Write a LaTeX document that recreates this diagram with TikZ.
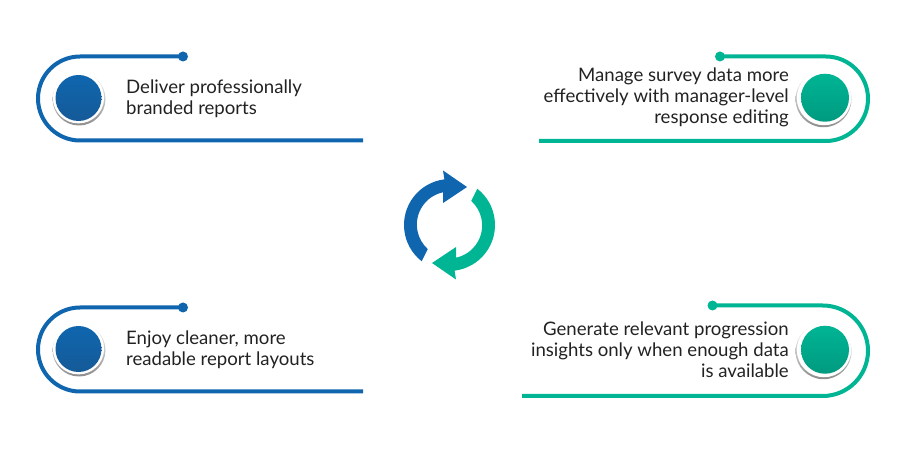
\documentclass[tikz,border=0pt]{standalone}
\usepackage{fontspec}
\setmainfont{Lato}
\definecolor{azul}{HTML}{0F66AE}
\definecolor{azulescuro}{HTML}{155A98}
\definecolor{verde}{HTML}{00B594}
\definecolor{verdeescuro}{HTML}{009A80}
\definecolor{tinta}{HTML}{222222}
\begin{document}
\begin{tikzpicture}[x=1pt,y=1pt]

\newcommand{\lr}{46}
\newcommand{\li}{33}
\newcommand{\lc}{450}
\newcommand{\lm}{225}

\tikzstyle{faixa}=[line width=4pt]
\tikzstyle{ponto}=[circle,fill,inner sep=0,minimum size=10pt]
\tikzstyle{borda}=[circle,inner sep=0,shade,top color=white,bottom color=black!45]
\tikzstyle{miolo}=[circle,inner sep=0]
\tikzstyle{texto}=[text=tinta,font=\fontsize{18.6}{21}\selectfont,inner sep=0]

\useasboundingbox (0,0) rectangle (900,450);

\newcommand{\esquerda}[7]{
    \draw[faixa,#6] ({#2},{#3}) -- ({38+(#3-#4)/2},{#3}) arc (90:270:{(#3-#4)/2}) -- ({#5},{#4});
    \node[ponto,fill=#6] (#1dot) at ({#2},{#3}) {};
    \node[borda,minimum size=53pt] (#1borda) at (79,{(#3+#4)/2-0.5}) {};
    \fill[white] (78.5,{(#3+#4)/2+0.7}) circle (25.6);
    \node[miolo,minimum size=46pt,top color=#6,bottom color=#6escuro] (#1miolo) at (78.5,{(#3+#4)/2+0.5}) {};
    \node[texto,anchor=west,align=left] (#1texto) at (126,{(#3+#4)/2}) {#7};
}

\newcommand{\direita}[7]{
    \draw[faixa,#6] ({#2},{#3}) -- ({868-(#3-#4)/2},{#3}) arc (90:-90:{(#3-#4)/2}) -- ({#5},{#4});
    \node[ponto,fill=#6] (#1dot) at ({#2},{#3}) {};
    \node[borda,minimum size=56pt] (#1borda) at (823.5,{(#3+#4)/2-0.5}) {};
    \fill[white] (824,{(#3+#4)/2+0.7}) circle (27.2);
    \node[miolo,minimum size=48pt,top color=#6,bottom color=#6escuro] (#1miolo) at (825,{(#3+#4)/2+1}) {};
    \node[texto,anchor=east,align=right] (#1texto) at (789,{(#3+#4)/2+1}) {#7};
}

\esquerda{relatorio}{183}{393.5}{309.5}{363}{azul}{Deliver professionally\\branded reports}

\esquerda{layout}{183}{142.5}{58.5}{363}{azul}{Enjoy cleaner, more\\readable report layouts}

\direita{dados}{720}{393.5}{309}{539}{verde}{Manage survey data more\\effectively with manager-level\\response editing}

\direita{insights}{712.5}{144.5}{54}{522}{verde}{Generate relevant progression\\insights only when enough data\\is available}

% setas do centro
\newcommand{\seta}[2]{
    \fill[#1,rotate around={#2:(\lc-0.5,\lm)}] ({\lc+\lr*cos(232)},{\lm+\lr*sin(232)}) arc (232:97:\lr) -- (443,{\lm+\lr+8.5}) -- (467,263) -- (443,{\lm+\li-11}) -- (443,{\lm+\li-0.3}) arc (102:228:\li) -- cycle;
}

\seta{azul}{0}
\seta{verde}{180}

\end{tikzpicture}
\end{document}
